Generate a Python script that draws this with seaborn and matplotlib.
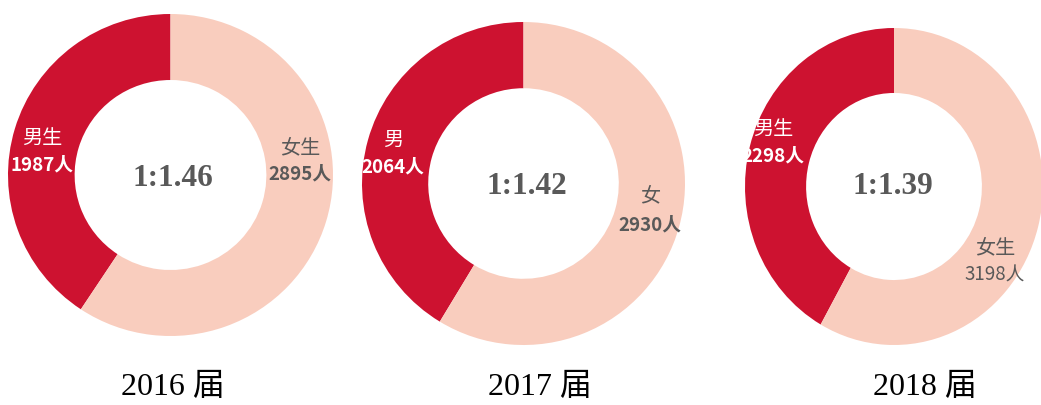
import matplotlib
matplotlib.use("Agg")
import matplotlib.pyplot as plt
import seaborn as sns

# ---- data ----
years = ["2016 届", "2017 届", "2018 届"]
male_counts = [1987, 2064, 2298]
female_counts = [2895, 2930, 3198]
male_names = ["男生", "男", "男生"]
female_names = ["女生", "女", "女生"]

sns.set_theme(style="white")
plt.rcParams['font.family'] = ['Noto Sans CJK SC', 'DejaVu Sans']

W, H = 1041, 405
fig = plt.figure(figsize=(W / 100, H / 100), dpi=100)
fig.patch.set_facecolor("white")

RED = "#CD1230"
PEACH = "#F9CDBE"
GRAY = "#595959"

# donut bounding boxes in pixels (x0, y0, x1, y1) from top-left
boxes = [(8, 14, 333, 336), (362, 22, 685, 345), (745, 28, 1043, 345)]
centers = [(173, 178), (527, 186), (893, 187)]
male_pos = [(42, 138, 165), (393, 140, 167), (773, 129, 156)]
female_pos = [(300, 148, 174), (650, 196, 225), (995, 248, 275)]
year_pos = [(173, 387), (540, 387), (925, 387)]


def fx(x):
    return x / W


def fy(y):
    return 1 - y / H


for i in range(3):
    x0, y0, x1, y1 = boxes[i]
    ax = fig.add_axes([fx(x0), fy(y1), (x1 - x0) / W, (y1 - y0) / H])
    ax.pie([male_counts[i], female_counts[i]], colors=[RED, PEACH],
           startangle=90, counterclock=True, radius=1,
           wedgeprops=dict(width=0.41, edgecolor="none"))
    ax.set_aspect("auto")
    ax.set_xlim(-1, 1)
    ax.set_ylim(-1, 1)
    ax.axis("off")

    ratio = female_counts[i] / male_counts[i]
    cx, cy = centers[i]
    fig.text(fx(cx), fy(cy), f"1:{ratio:.2f}", ha="center", va="center",
             fontsize=22.5, fontweight="bold", color=GRAY,
             family=["Liberation Serif", "DejaVu Serif"])

    mx, my1, my2 = male_pos[i]
    fig.text(fx(mx), fy(my1), male_names[i], ha="center", va="center",
             fontsize=14.5, color="white")
    fig.text(fx(mx), fy(my2), f"{male_counts[i]}人", ha="center", va="center",
             fontsize=13.5, fontweight="bold", color="white")

    fx_, fy1, fy2 = female_pos[i]
    fig.text(fx(fx_), fy(fy1), female_names[i], ha="center", va="center",
             fontsize=14.5, color=GRAY)
    fig.text(fx(fx_), fy(fy2), f"{female_counts[i]}人", ha="center", va="center",
             fontsize=13.5, fontweight="bold" if i < 2 else "normal", color=GRAY)

    yx, yy = year_pos[i]
    fig.text(fx(yx), fy(yy), years[i], ha="center", va="center",
             fontsize=23, color="black",
             family=["Liberation Serif", "Noto Sans CJK SC"])

fig.savefig("out.png", dpi=100, facecolor="white")
